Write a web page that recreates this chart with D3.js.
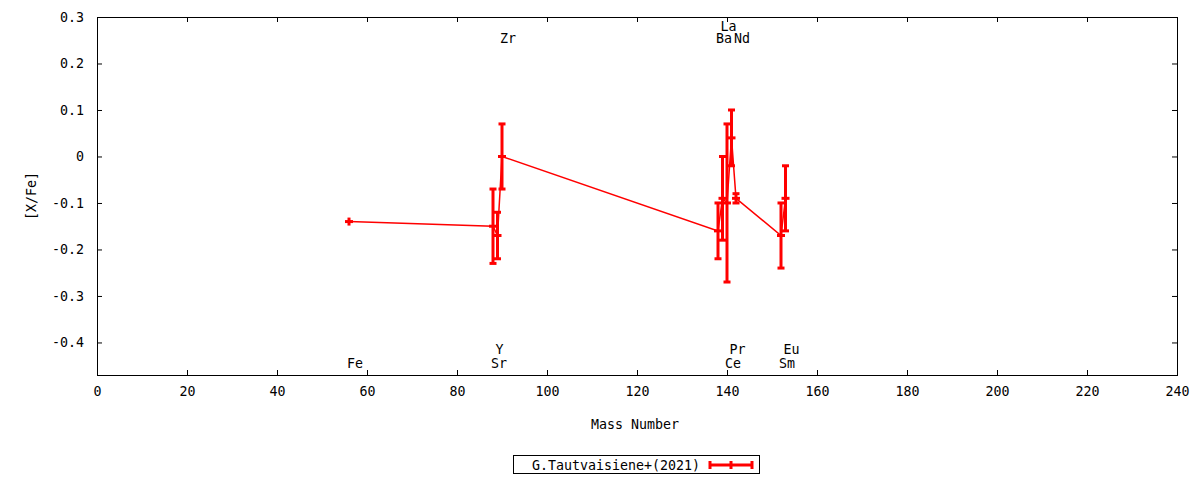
<!DOCTYPE html>
<html>
<head>
<meta charset="utf-8">
<script src="https://cdn.jsdelivr.net/npm/d3@7"></script>
<style>
    body { margin: 0; background: #fff; }
    text { font-family: "DejaVu Sans Mono", monospace; font-size: 13.3px; fill: #000; }
</style>
</head>
<body>
<div id="vis-svg"></div>
<script>
// element names, mass numbers, [X/Fe] and error
let elements = ['Fe', 'Sr', 'Y', 'Zr', 'Ba', 'La', 'Ce', 'Pr', 'Nd', 'Sm', 'Eu']
let masses = [56, 88, 89, 90, 138, 139, 140, 141, 142, 152, 153]
let xfe = [-0.14, -0.15, -0.17, 0.00, -0.16, -0.09, -0.10, 0.04, -0.09, -0.17, -0.09]
let errs = [0, 0.08, 0.05, 0.07, 0.06, 0.09, 0.17, 0.06, 0.01, 0.07, 0.07]
// which side of the plot the element name goes
let label_side = ['bottom', 'bottom', 'bottom', 'top', 'top', 'top', 'bottom', 'bottom', 'top', 'bottom', 'bottom']

let x_ticks = [0, 20, 40, 60, 80, 100, 120, 140, 160, 180, 200, 220, 240]
let y_ticks = [-0.4, -0.3, -0.2, -0.1, 0, 0.1, 0.2, 0.3]
let legend_label = 'G.Tautvaisiene+(2021)'

let data = elements.map((el, i) => ({el: el, mass: masses[i], val: xfe[i], err: errs[i], side: label_side[i]}))

let margin = {top: 17, right: 23, bottom: 105, left: 97},
    width = 1200 - margin.left - margin.right,
    height = 480 - margin.top - margin.bottom;

const svg = d3.select("#vis-svg").append("svg")
    .attr("width", 1200)
    .attr("height", 480)

const g = svg.append("g")
    .attr("transform", "translate(" + margin.left + "," + margin.top + ")");

var x = d3.scaleLinear().domain([0, 240]).range([0, width]);
var y = d3.scaleLinear().domain([-0.47, 0.3]).range([height, 0]);

let fmt = d => d === 0 ? '0' : d3.format('.1f')(d).replace('−', '-')

// axes (ticks inward, mirrored)
let tick = 5
g.append("g")
    .attr("transform", "translate(0," + height + ")")
    .call(d3.axisBottom(x).tickValues(x_ticks).tickSizeInner(-tick).tickSizeOuter(0).tickPadding(12).tickFormat(d3.format('d')))
g.append("g")
    .call(d3.axisTop(x).tickValues(x_ticks).tickSizeInner(-tick).tickSizeOuter(0).tickFormat(''))
g.append("g")
    .call(d3.axisLeft(y).tickValues(y_ticks).tickSizeInner(-tick).tickSizeOuter(0).tickPadding(13).tickFormat(fmt))
g.append("g")
    .attr("transform", "translate(" + width + ",0)")
    .call(d3.axisRight(y).tickValues(y_ticks).tickSizeInner(-tick).tickSizeOuter(0).tickFormat(''))

g.selectAll(".domain").remove()
g.selectAll(".tick line").attr("stroke", "#000")
g.selectAll(".tick text").attr("fill", "#000").style("font-size", "13.3px")
    .style("font-family", '"DejaVu Sans Mono", monospace')

g.append("rect")
    .attr("width", width)
    .attr("height", height)
    .attr("fill", "none")
    .attr("stroke", "#000")
    .attr("stroke-width", 1)
    .attr("shape-rendering", "crispEdges")

// axis titles
svg.append("text")
    .attr("x", 635)
    .attr("y", 429)
    .attr("text-anchor", "middle")
    .text("Mass Number")
svg.append("text")
    .attr("transform", "translate(36,196) rotate(-90)")
    .attr("text-anchor", "middle")
    .text("[X/Fe]")

// connecting line
g.append("path")
    .datum(data)
    .attr("fill", "none")
    .attr("stroke", "#ff0000")
    .attr("stroke-width", 1.5)
    .attr("d", d3.line().x(d => x(d.mass)).y(d => y(d.val)))

// error bars with caps and plus markers
let cap = 3.5
let bars = g.selectAll(".err").data(data).enter().append("g")
    .attr("class", "err")
    .attr("stroke", "#ff0000")
    .attr("stroke-width", 3)
bars.append("line")
    .attr("x1", d => x(d.mass)).attr("x2", d => x(d.mass))
    .attr("y1", d => y(d.val + d.err) - (d.err ? 0 : 4))
    .attr("y2", d => y(d.val - d.err) + (d.err ? 0 : 4))
bars.filter(d => d.err > 0).append("line")
    .attr("x1", d => x(d.mass) - cap).attr("x2", d => x(d.mass) + cap)
    .attr("y1", d => y(d.val + d.err)).attr("y2", d => y(d.val + d.err))
bars.filter(d => d.err > 0).append("line")
    .attr("x1", d => x(d.mass) - cap).attr("x2", d => x(d.mass) + cap)
    .attr("y1", d => y(d.val - d.err)).attr("y2", d => y(d.val - d.err))
bars.append("line")
    .attr("x1", d => x(d.mass) - 4).attr("x2", d => x(d.mass) + 4)
    .attr("y1", d => y(d.val)).attr("y2", d => y(d.val))

// element labels, raised one row when they would overlap a neighbour
let char_w = 8
let last_end = {top: -1e9, bottom: -1e9}
data.forEach(d => {
    let start = x(d.mass) - 2
    d.row = start < last_end[d.side] ? 1 : 0
    if (d.row === 0) last_end[d.side] = start + d.el.length * char_w
})
g.selectAll(".el-label").data(data).enter().append("text")
    .attr("class", "el-label")
    .attr("x", d => x(d.mass) - 2)
    .attr("y", d => d.side === 'top' ? 26 - d.row * 12.5 : height - 7 - d.row * 14)
    .text(d => d.el)

// legend
let legend = svg.append("g")
legend.append("rect")
    .attr("x", 513.5).attr("y", 455.5)
    .attr("width", 246).attr("height", 18)
    .attr("fill", "none").attr("stroke", "#000")
legend.append("text")
    .attr("x", 700).attr("y", 469.5)
    .attr("text-anchor", "end")
    .text(legend_label)
let lg = legend.append("g").attr("stroke", "#ff0000").attr("stroke-width", 3)
lg.append("line").attr("x1", 710).attr("x2", 752).attr("y1", 465).attr("y2", 465)
lg.append("line").attr("x1", 710).attr("x2", 710).attr("y1", 461).attr("y2", 469)
lg.append("line").attr("x1", 752).attr("x2", 752).attr("y1", 461).attr("y2", 469)
lg.append("line").attr("x1", 731).attr("x2", 731).attr("y1", 461).attr("y2", 469)
</script>
</body>
</html>
